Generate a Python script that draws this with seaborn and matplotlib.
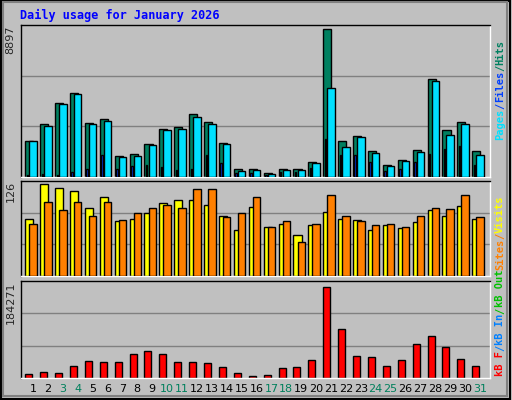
import numpy as np
import pandas as pd
import matplotlib
matplotlib.use("Agg")
import matplotlib.pyplot as plt
import seaborn as sns

days = list(range(1, 32))
weekend_days = [3, 4, 10, 11, 17, 18, 24, 25, 31]

hits = [2134, 3160, 4429, 5033, 3221, 3462, 1288, 1409, 2013, 2858, 2979, 3764, 3281, 2073, 503, 503,
        262, 503, 503, 926, 8897, 2134, 2436, 1590, 745, 1047, 1651, 5878, 2798, 3281, 1590]
files = [2134, 3040, 4368, 4972, 3160, 3342, 1228, 1288, 1953, 2798, 2858, 3583, 3160, 2013, 382, 443,
         201, 443, 443, 866, 5334, 1832, 2375, 1470, 684, 986, 1530, 5757, 2496, 3160, 1349]
pages = [141, 201, 141, 322, 503, 1349, 503, 684, 745, 624, 443, 503, 1349, 866, 262, 262,
         141, 322, 322, 564, 2255, 1349, 1349, 926, 382, 503, 926, 1409, 1711, 1892, 745]
visits = [78, 126, 121, 116, 93, 108, 75, 78, 86, 100, 104, 104, 97, 82, 63, 94,
          67, 71, 56, 70, 88, 78, 77, 63, 70, 66, 74, 90, 82, 96, 78]
sites = [71, 101, 90, 101, 82, 101, 77, 86, 93, 97, 93, 119, 119, 81, 86, 108,
         67, 75, 47, 71, 111, 82, 75, 70, 71, 67, 82, 93, 92, 111, 81]
kbytes = [8743, 12778, 10760, 24883, 34970, 32953, 32953, 49093, 55145, 49093, 32953, 32953, 30935,
          22865, 10760, 4708, 6725, 20848, 22865, 36988, 184271, 99530, 45058, 43040, 24883, 36988,
          69268, 85408, 63215, 39005, 24883]

sns.set_style("white")
plt.rcParams['font.family'] = ['DejaVu Sans Mono']

BG = "#C0C0C0"
fig = plt.figure(figsize=(5.12, 4.0), dpi=100, facecolor=BG)
# outer frame
fig.patches.append(plt.Rectangle((0.002, 0.003), 0.994, 0.994, transform=fig.transFigure,
                                 fill=False, edgecolor="black", linewidth=1.5))
fig.patches.append(plt.Rectangle((0.006, 0.01), 0.985, 0.985, transform=fig.transFigure,
                                 fill=False, edgecolor="#808080", linewidth=1.5))

left, width = 0.041, 0.916
ax1 = fig.add_axes([left, 0.5575, width, 0.38])
ax2 = fig.add_axes([left, 0.31, width, 0.2375])
ax3 = fig.add_axes([left, 0.055, width, 0.2425])

d = np.array(days, dtype=float)


def bars(ax, offset, vals, w, color, z=2):
    df = pd.DataFrame({"x": d + offset, "y": vals})
    n0 = len(ax.patches)
    sns.barplot(data=df, x="x", y="y", native_scale=True, width=w, color=color,
                saturation=1, edgecolor="black", linewidth=1, ax=ax)
    for p in ax.patches[n0:]:
        p.set_zorder(z)


bars(ax1, -0.25, hits, 0.54, "#008060", 2)
bars(ax1, 0.0, files, 0.5, "#00E0FF", 3)
bars(ax1, -0.375, pages, 0.1, "#0040FF", 4)
bars(ax2, -0.25, visits, 0.54, "#FFFF00", 2)
bars(ax2, 0.0, sites, 0.5, "#FF8000", 3)
bars(ax3, -0.285, kbytes, 0.47, "#FF0000", 2)

for ax, top, mx in [(ax1, 9137, "8897"), (ax2, 130, "126"), (ax3, 195800, "184271")]:
    ax.set_facecolor(BG)
    ax.set_xlim(0.19, 31.67)
    ax.set_ylim(0, top)
    for g in (top / 3, 2 * top / 3):
        ax.axhline(g, color="#808080", linewidth=1, zorder=0)
    ax.set_xticks([])
    ax.set_yticks([])
    ax.set_xlabel("")
    ax.set_ylabel("")
    for s in ax.spines.values():
        s.set_color("black")
        s.set_linewidth(1)
    ax.spines["bottom"].set_color("white")
    ax.spines["right"].set_color("white")
    ax.text(-0.012, 1.0, mx, transform=ax.transAxes, rotation=90, ha="right", va="top",
            fontsize=8, family="DejaVu Sans")

fig.text(20 / 512, 1 - 15 / 400, "Daily usage for January 2026", color="#0000FF",
         fontsize=8.5, fontweight="bold", va="center", ha="left")

# day labels
for day in days:
    x = (33 + (day - 1) * 14.9) / 512
    fig.text(x, 1 - 389 / 400, str(day), ha="center", va="center", fontsize=8,
             family="DejaVu Sans", color="#00805C" if day in weekend_days else "black")

fig.canvas.draw()
renderer = fig.canvas.get_renderer()


def side_label(parts, y_bottom):
    y = y_bottom
    for txt, col in parts:
        t = fig.text(500 / 512, y, txt, rotation=90, color=col, fontsize=7.5,
                     ha="center", va="bottom", fontweight="bold")
        bb = t.get_window_extent(renderer)
        y += bb.height / fig.bbox.height


side_label([("Pages", "#00E0FF"), ("/", "#0040FF"), ("Files", "#0040FF"),
            ("/", "#008060"), ("Hits", "#008060")], 1 - 140 / 400)
side_label([("Sites", "#FF8000"), ("/", "#FF8000"), ("Visits", "#FFFF00")], 1 - 270 / 400)
side_label([("kB F", "#FF0000"), ("/", "#0080FF"), ("kB In", "#0080FF"),
            ("/", "#00C000"), ("kB Out", "#00C000")], 1 - 376 / 400)

fig.savefig("out.png", dpi=100, facecolor=BG)
